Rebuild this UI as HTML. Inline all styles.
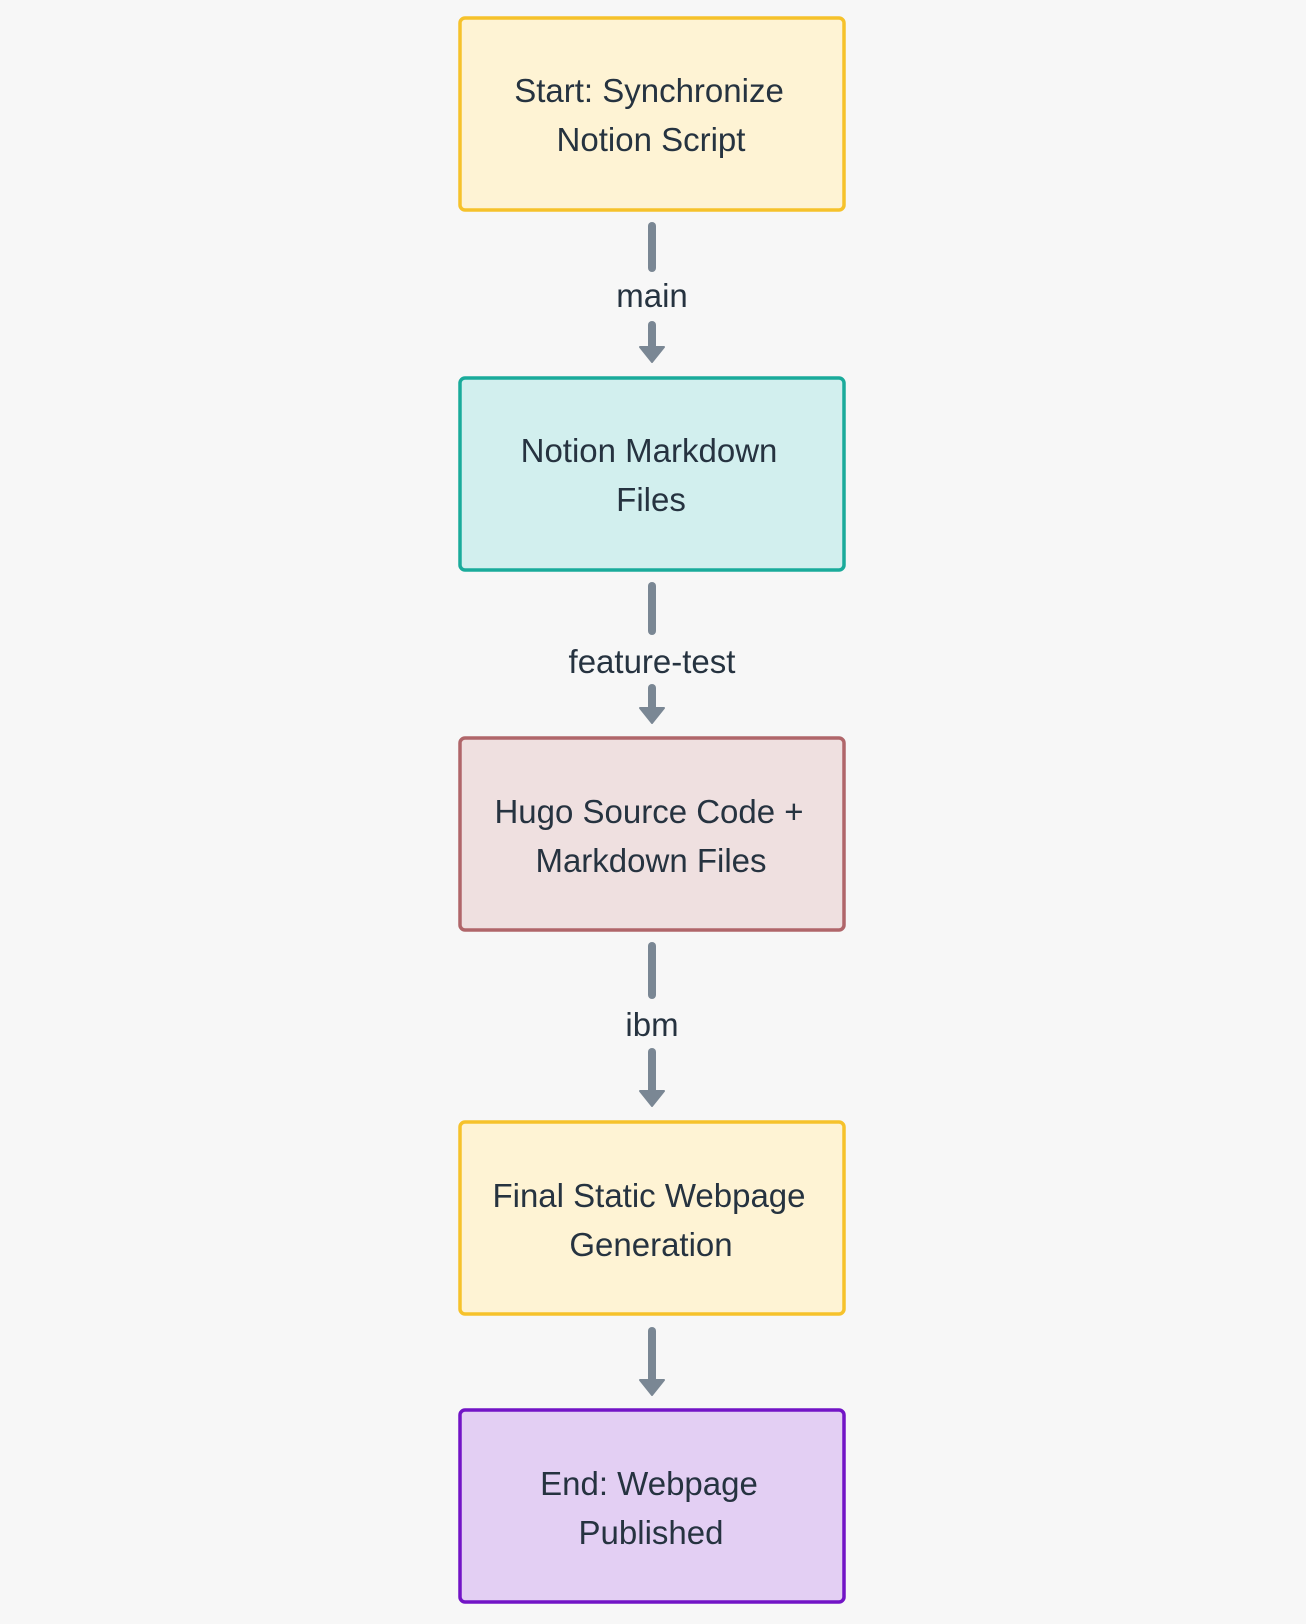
<!DOCTYPE html>
<html><head><meta charset="utf-8"><style>
html,body{margin:0;padding:0;background:#f7f7f7;}
svg{display:block;}
text{font-family:"Liberation Sans",sans-serif;font-size:33px;fill:#263340;text-anchor:middle;}
</style></head><body>
<svg width="1306" height="1624" viewBox="0 0 1306 1624" xmlns="http://www.w3.org/2000/svg">
<rect width="1306" height="1624" fill="#f7f7f7"/>
<g stroke-width="3.5">
<rect x="460" y="18" width="384" height="192" rx="5" fill="#fef3d4" stroke="#f6c22b"/>
<rect x="460" y="378" width="384" height="192" rx="5" fill="#d2efee" stroke="#1aab9b"/>
<rect x="460" y="738" width="384" height="192" rx="5" fill="#efe0e0" stroke="#b0666a"/>
<rect x="460" y="1122" width="384" height="192" rx="5" fill="#fef3d4" stroke="#f6c22b"/>
<rect x="460" y="1410" width="384" height="192" rx="5" fill="#e3cff3" stroke="#7214c6"/>
</g>
<g stroke="#7a8794" stroke-width="8" stroke-linecap="round" fill="none">
<line x1="652" y1="226" x2="652" y2="268"/>
<line x1="652" y1="325" x2="652" y2="350"/>
<line x1="652" y1="586" x2="652" y2="631"/>
<line x1="652" y1="688" x2="652" y2="710"/>
<line x1="652" y1="946" x2="652" y2="995"/>
<line x1="652" y1="1052" x2="652" y2="1092"/>
<line x1="652" y1="1331" x2="652" y2="1381"/>
</g>
<g fill="#7a8794" stroke="#7a8794" stroke-width="2" stroke-linejoin="round">
<polygon points="640,347 664,347 652,362"/>
<polygon points="640,708 664,708 652,723"/>
<polygon points="640,1091 664,1091 652,1106"/>
<polygon points="640,1380 664,1380 652,1395"/>
</g>
<text x="649" y="102">Start: Synchronize</text>
<text x="651" y="151">Notion Script</text>
<text x="649" y="462">Notion Markdown</text>
<text x="651" y="511">Files</text>
<text x="649" y="823">Hugo Source Code +</text>
<text x="651" y="872">Markdown Files</text>
<text x="649" y="1207">Final Static Webpage</text>
<text x="651" y="1256">Generation</text>
<text x="649" y="1495">End: Webpage</text>
<text x="651" y="1544">Published</text>
<text x="652" y="307">main</text>
<text x="652" y="673">feature-test</text>
<text x="652" y="1036">ibm</text>
</svg>
</body></html>
